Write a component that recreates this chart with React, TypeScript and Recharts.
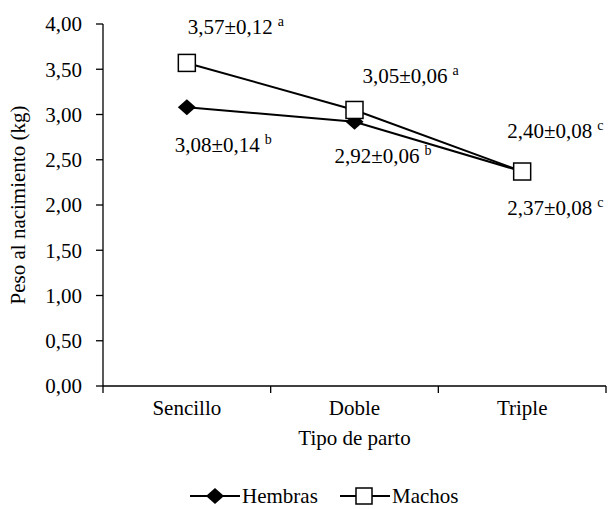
import React from 'react';
import { LineChart, Line, XAxis, YAxis, Legend } from 'recharts';

const categories = ['Sencillo', 'Doble', 'Triple'];
const hembras = [3.08, 2.92, 2.37];
const machos = [3.57, 3.05, 2.37];
const hembrasLabels = ['3,08±0,14', '2,92±0,06', '2,37±0,08'];
const hembrasLetters = ['b', 'b', 'c'];
const machosLabels = ['3,57±0,12', '3,05±0,06', '2,40±0,08'];
const machosLetters = ['a', 'a', 'c'];
const yTicks = [0, 0.5, 1, 1.5, 2, 2.5, 3, 3.5, 4];
const xTicks = [0, 0.5, 1, 1.5, 2, 2.5, 3];

const FONT = "'Liberation Serif', 'Times New Roman', Times, Tinos, 'Nimbus Roman', 'FreeSerif', 'Noto Serif', 'DejaVu Serif', serif";
const FS = 21;
const TXT = { fontFamily: FONT, fontSize: FS, fill: '#000' };

// label offsets (styling) relative to point
const hembrasOffsets = [[-12, 45], [-20, 41], [-15, 43]];
const machosOffsets = [[1, -29], [8, -27], [-15, -34]];

const data = categories.map((c, i) => ({ x: i + 0.5, name: c, hembras: hembras[i], machos: machos[i] }));

const fmt = (v: number) => v.toFixed(2).replace('.', ',');

const LabelText = ({ x, y, main, letter }: any) => (
  <text x={x} y={y} style={TXT}>
    <tspan>{main}</tspan>
    <tspan dx={5} dy={-8} style={{ fontSize: 14 }}>{letter}</tspan>
  </text>
);

const HembrasDot = (props: any) => {
  const { cx, cy, index } = props;
  const s = 9;
  const [dx, dy] = hembrasOffsets[index];
  return (
    <g key={`h${index}`}>
      <polygon points={`${cx},${cy - 8} ${cx + s},${cy} ${cx},${cy + 8} ${cx - s},${cy}`} fill="#000" />
      <LabelText x={cx + dx} y={cy + dy} main={hembrasLabels[index]} letter={hembrasLetters[index]} />
    </g>
  );
};

const MachosDot = (props: any) => {
  const { cx, cy, index } = props;
  const h = 8.5;
  const [dx, dy] = machosOffsets[index];
  return (
    <g key={`m${index}`}>
      <rect x={cx - h} y={cy - h} width={2 * h} height={2 * h} fill="#fff" stroke="#000" strokeWidth={1.5} />
      <LabelText x={cx + dx} y={cy + dy} main={machosLabels[index]} letter={machosLetters[index]} />
    </g>
  );
};

const XTick = (props: any) => {
  const { x, y, payload } = props;
  const v = payload.value;
  if (Number.isInteger(v)) {
    return <line x1={x} x2={x} y1={y} y2={y + 7} stroke="#000" strokeWidth={1.3} />;
  }
  return (
    <text x={x} y={y + 22} dy="0.355em" textAnchor="middle" style={TXT}>
      {categories[Math.floor(v)]}
    </text>
  );
};

const LegendContent = () => (
  <svg width={609} height={33} style={{ display: 'block' }}>
    <g>
      <line x1={190} x2={240} y1={20} y2={20} stroke="#000" strokeWidth={2} />
      <polygon points="215,12 224,20 215,28 206,20" fill="#000" />
      <text x={242} y={20} dy="0.355em" style={TXT}>Hembras</text>
    </g>
    <g>
      <line x1={340} x2={390} y1={20} y2={20} stroke="#000" strokeWidth={2} />
      <rect x={356} y={12} width={16} height={16} fill="#fff" stroke="#000" strokeWidth={1.5} />
      <text x={392} y={20} dy="0.355em" style={TXT}>Machos</text>
    </g>
  </svg>
);

export default function App() {
  return (
    <div style={{ position: 'absolute', left: 0, top: 0, background: '#fff' }}>
      <LineChart width={609} height={509} data={data} margin={{ top: 24, right: 3, left: 0, bottom: 0 }}>
        <XAxis
          type="number"
          dataKey="x"
          domain={[0, 3]}
          ticks={xTicks}
          interval={0}
          tick={<XTick />}
          tickLine={false}
          tickSize={0}
          tickMargin={0}
          height={90}
          axisLine={{ stroke: '#000', strokeWidth: 1.3 }}
          label={{ value: 'Tipo de parto', position: 'insideTop', offset: 44, style: TXT }}
        />
        <YAxis
          domain={[0, 4]}
          ticks={yTicks}
          interval={0}
          width={103}
          tickFormatter={fmt}
          tickSize={7}
          tickMargin={14}
          tickLine={{ stroke: '#000', strokeWidth: 1.3 }}
          axisLine={{ stroke: '#000', strokeWidth: 1.3 }}
          tick={{ style: TXT, fontFamily: FONT, fontSize: FS, fill: '#000' }}
          label={{ value: 'Peso al nacimiento (kg)', angle: -90, position: 'insideLeft', offset: 18, style: { ...TXT, textAnchor: 'middle' } }}
        />
        <Legend verticalAlign="bottom" content={<LegendContent />} wrapperStyle={{ left: 0, width: 609, height: 33 }} />
        <Line dataKey="hembras" stroke="#000" strokeWidth={2} dot={HembrasDot} activeDot={false} isAnimationActive={false} />
        <Line dataKey="machos" stroke="#000" strokeWidth={2} dot={MachosDot} activeDot={false} isAnimationActive={false} />
      </LineChart>
    </div>
  );
}
